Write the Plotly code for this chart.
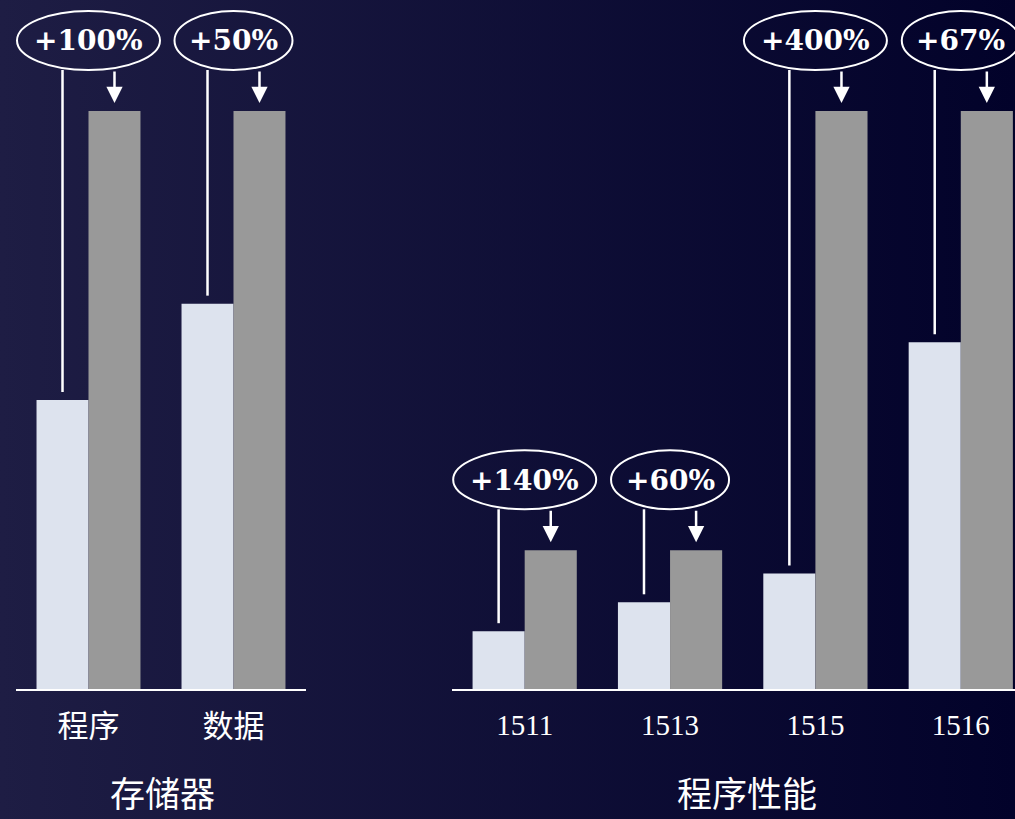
import base64
import plotly.graph_objects as go

# ---- data ----
mem_categories = ["程序", "数据"]
mem_before = [3, 4]
mem_after = [6, 6]
mem_labels = ["+100%", "+50%"]

perf_categories = ["1511", "1513", "1515", "1516"]
perf_before = [0.5, 0.75, 1.0, 3.0]
perf_after = [1.2, 1.2, 5.0, 5.0]
perf_labels = ["+140%", "+60%", "+400%", "+67%"]

group_titles = ["存储器", "程序性能"]

# ---- style / layout ----
W, H = 1015, 819
LIGHT = "#dde3ee"
GRAY = "#999999"
BARGAP = 0.283
Y_BOTTOM = 130 / H                 # baseline position (paper fraction)
PLOT_H = H * (1 - Y_BOTTOM)
Y1_RANGE = [0, 7.152]
Y2_RANGE = [0, 5.96]
X1_DOMAIN = [16 / W, 306 / W]
X2_DOMAIN = [452 / W, 1.0]
X2_RANGE = [-0.5, 3.373]

svg = (
    f'<svg xmlns="http://www.w3.org/2000/svg" width="{W}" height="{H}">'
    '<defs><linearGradient id="g" x1="0" y1="0" x2="1" y2="0">'
    '<stop offset="0" stop-color="#1e1d44"/><stop offset="1" stop-color="#02022a"/>'
    '</linearGradient></defs>'
    f'<rect width="{W}" height="{H}" fill="url(#g)"/></svg>'
)
bg_uri = "data:image/svg+xml;base64," + base64.b64encode(svg.encode()).decode()

fig = go.Figure()

fig.add_trace(go.Bar(x=mem_categories, y=mem_before, marker_color=LIGHT, marker_line_width=0,
                     offsetgroup="a", xaxis="x", yaxis="y", hoverinfo="skip"))
fig.add_trace(go.Bar(x=mem_categories, y=mem_after, marker_color=GRAY, marker_line_width=0,
                     offsetgroup="b", xaxis="x", yaxis="y", hoverinfo="skip"))
fig.add_trace(go.Bar(x=perf_categories, y=perf_before, marker_color=LIGHT, marker_line_width=0,
                     offsetgroup="a", xaxis="x2", yaxis="y2", hoverinfo="skip"))
fig.add_trace(go.Bar(x=perf_categories, y=perf_after, marker_color=GRAY, marker_line_width=0,
                     offsetgroup="b", xaxis="x2", yaxis="y2", hoverinfo="skip"))

off = (1 - BARGAP) / 4  # half of one bar width, in category units

shapes = []
annotations = []

def add_callouts(before, after, labels, xr, yr, yrange):
    ppu = PLOT_H / (yrange[1] - yrange[0])
    for i, (b, a, lab) in enumerate(zip(before, after, labels)):
        w = 143 if len(lab) >= 5 else 118
        shapes.append(dict(type="circle", xref=xr, yref=yr, xsizemode="pixel", ysizemode="pixel",
                           xanchor=i, yanchor=a, x0=-w / 2, x1=w / 2, y0=41, y1=100,
                           line=dict(color="white", width=2), fillcolor="rgba(0,0,0,0)"))
        shapes.append(dict(type="line", xref=xr, yref=yr, ysizemode="pixel", yanchor=b,
                           x0=i - off, x1=i - off, y0=8, y1=(a - b) * ppu + 41,
                           line=dict(color="white", width=2.5)))
        annotations.append(dict(x=i, y=a, xref=xr, yref=yr, yshift=70, text=f"<b>{lab}</b>",
                                showarrow=False, xanchor="center", yanchor="middle",
                                font=dict(family="DejaVu Serif", size=28, color="white")))
        annotations.append(dict(x=i + off, y=a, xref=xr, yref=yr, text="", showarrow=True,
                                ax=0, ay=-41, standoff=8, arrowhead=2, arrowsize=1.3,
                                arrowwidth=2.5, arrowcolor="white"))

add_callouts(mem_before, mem_after, mem_labels, "x", "y", Y1_RANGE)
add_callouts(perf_before, perf_after, perf_labels, "x2", "y2", Y2_RANGE)

annotations.append(dict(x=162 / W, y=0, xref="paper", yref="paper", text=group_titles[0],
                        showarrow=False, xanchor="center", yanchor="bottom",
                        font=dict(family="Noto Sans CJK SC", size=35, color="white")))
annotations.append(dict(x=747 / W, y=0, xref="paper", yref="paper", text=group_titles[1],
                        showarrow=False, xanchor="center", yanchor="bottom",
                        font=dict(family="Noto Sans CJK SC", size=35, color="white")))

axis_common = dict(showgrid=False, zeroline=False, showline=True, linecolor="white", linewidth=2,
                   ticks="outside", ticklen=9, tickcolor="rgba(0,0,0,0)", fixedrange=True)

fig.update_layout(
    width=W, height=H, margin=dict(l=0, r=0, t=0, b=0),
    paper_bgcolor="#10103a", plot_bgcolor="rgba(0,0,0,0)",
    barmode="group", bargap=BARGAP, bargroupgap=0, showlegend=False,
    xaxis=dict(domain=X1_DOMAIN, anchor="y", range=[-0.5, 1.5],
               tickfont=dict(family="Noto Sans CJK SC", size=31, color="white"), **axis_common),
    xaxis2=dict(domain=X2_DOMAIN, anchor="y2", range=X2_RANGE,
                tickfont=dict(family="Liberation Serif", size=29, color="white"), **axis_common),
    yaxis=dict(domain=[Y_BOTTOM, 1], range=Y1_RANGE, visible=False, fixedrange=True),
    yaxis2=dict(domain=[Y_BOTTOM, 1], range=Y2_RANGE, visible=False, fixedrange=True, anchor="x2"),
    shapes=shapes, annotations=annotations,
    images=[dict(source=bg_uri, xref="paper", yref="paper", x=0, y=1, sizex=1, sizey=1,
                 sizing="stretch", layer="below", xanchor="left", yanchor="top")],
)

fig.write_html("out.html", config={"displayModeBar": False})
